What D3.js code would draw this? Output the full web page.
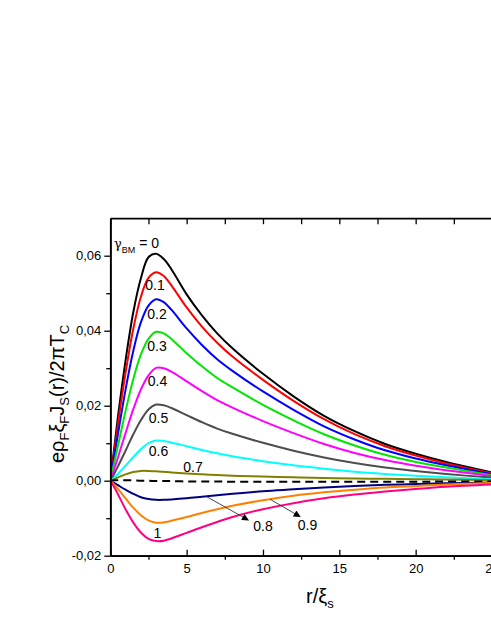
<!DOCTYPE html>
<html><head><meta charset="utf-8">
<script src="https://cdn.jsdelivr.net/npm/d3@7"></script>
<style>
body{margin:0;background:#fff}
svg{display:block}
text{font-family:Arial,"Liberation Sans",sans-serif;fill:#000}
</style>
</head><body>
<svg id="chart" width="491" height="635"></svg>
<script>
// ---------------- data ----------------
const xValues = [0,0.25,0.5,1,1.5,2,2.5,3,3.5,4,5,6,7,8,10,12,14,16,18,20,22,25];
const gammaLabels = ["0","0.1","0.2","0.3","0.4","0.5","0.6","0.7","dashed","0.8","0.9","1"];
const jGamma00 = [0,0.0085,0.0170,0.0321,0.0448,0.0539,0.0596,0.0605,0.0591,0.0564,0.0497,0.0441,0.0393,0.0353,0.0285,0.0225,0.0173,0.0132,0.0098,0.0072,0.0050,0.0022];
const jGamma01 = [0,0.0075,0.0150,0.0288,0.0404,0.0490,0.0541,0.0556,0.0546,0.0521,0.0462,0.0411,0.0368,0.0331,0.0269,0.0213,0.0164,0.0124,0.0092,0.0067,0.0046,0.0020];
const jGamma02 = [0,0.0062,0.0124,0.0243,0.0345,0.0422,0.0467,0.0484,0.0476,0.0456,0.0406,0.0362,0.0324,0.0293,0.0238,0.0189,0.0145,0.0110,0.0081,0.0059,0.0041,0.0017];
const jGamma03 = [0,0.0046,0.0093,0.0186,0.0270,0.0336,0.0378,0.0397,0.0393,0.0378,0.0340,0.0305,0.0274,0.0249,0.0202,0.0161,0.0124,0.0094,0.0069,0.0050,0.0035,0.0015];
const jGamma04 = [0,0.0030,0.0062,0.0127,0.0190,0.0243,0.0281,0.0301,0.0300,0.0291,0.0265,0.0239,0.0215,0.0195,0.0159,0.0127,0.0098,0.0074,0.0055,0.0040,0.0028,0.0012];
const jGamma05 = [0,0.0018,0.0038,0.0080,0.0123,0.0161,0.0190,0.0203,0.0201,0.0194,0.0175,0.0156,0.0139,0.0125,0.0101,0.0080,0.0062,0.0047,0.0035,0.0026,0.0018,0.0008];
const jGamma06 = [0,0.0008,0.0018,0.0040,0.0063,0.0084,0.0100,0.0107,0.0106,0.0102,0.0092,0.0082,0.0073,0.0065,0.0052,0.0041,0.0032,0.0024,0.0018,0.0013,0.0009,0.0004];
const jGamma07 = [0,0.0004,0.0009,0.0017,0.0023,0.0026,0.0026,0.0025,0.0024,0.0022,0.0019,0.0017,0.0015,0.0013,0.0011,0.0009,0.0007,0.0006,0.0005,0.0004,0.0003,0.0002];
const jGammaDash = [0,0.0001,0.0001,0.0001,0.0001,0.0000,0.0000,-0.0001,-0.0001,-0.0001,-0.0002,-0.0002,-0.0002,-0.0003,-0.0003,-0.0003,-0.0003,-0.0003,-0.0003,-0.0003,-0.0002,-0.0002];
const jGamma08 = [0,-0.0006,-0.0012,-0.0024,-0.0035,-0.0044,-0.0049,-0.0051,-0.0051,-0.0050,-0.0047,-0.0043,-0.0039,-0.0035,-0.0028,-0.0023,-0.0018,-0.0014,-0.0011,-0.0009,-0.0007,-0.0005];
const jGamma09 = [0,-0.0010,-0.0022,-0.0047,-0.0072,-0.0092,-0.0106,-0.0112,-0.0111,-0.0107,-0.0097,-0.0086,-0.0076,-0.0067,-0.0052,-0.0040,-0.0031,-0.0024,-0.0018,-0.0014,-0.0010,-0.0006];
const jGamma10 = [0,-0.0017,-0.0036,-0.0076,-0.0111,-0.0138,-0.0155,-0.0161,-0.0160,-0.0154,-0.0139,-0.0124,-0.0110,-0.0097,-0.0076,-0.0060,-0.0047,-0.0037,-0.0029,-0.0022,-0.0016,-0.0010];
const xTickValues = [0,5,10,15,20,25];
const xMinorTicks = [2.5,7.5,12.5,17.5,22.5];
const yTickValues = [-0.02,0,0.02,0.04,0.06];
const yMinorTicks = [-0.01,0.01,0.03,0.05];

// ---------------- styles ----------------
const seriesColors = ["#000000","#ff0000","#0000ff","#00e600","#ff00ff","#4d4d4d","#00ffff","#808000","#000000","#000080","#ff8000","#ff0080"];
const seriesValues = [jGamma00,jGamma01,jGamma02,jGamma03,jGamma04,jGamma05,jGamma06,jGamma07,jGammaDash,jGamma08,jGamma09,jGamma10];

// ---------------- layout ----------------
const svg = d3.select("#chart");
const plot = {left:110.3, right:492, top:218.2, bottom:555.7};
const x = d3.scaleLinear().domain([0,25]).range([plot.left, plot.right]);
const y = d3.scaleLinear().domain([-0.02,0.07]).range([plot.bottom, plot.top]);

const defs = svg.append("defs");
defs.append("clipPath").attr("id","clip")
  .append("rect").attr("x",plot.left).attr("y",plot.top)
  .attr("width",plot.right-plot.left).attr("height",plot.bottom-plot.top);
defs.append("marker").attr("id","arrow").attr("viewBox","0 0 10 10")
  .attr("refX",9).attr("refY",5).attr("markerWidth",10).attr("markerHeight",7)
  .attr("markerUnits","userSpaceOnUse").attr("orient","auto")
  .append("path").attr("d","M0,0 L10,5 L0,10 z").attr("fill","#000");

// curves
const line = d3.line().x((d,i)=>x(xValues[i])).y(d=>y(d)).curve(d3.curveCatmullRom.alpha(0.5));
const g = svg.append("g").attr("clip-path","url(#clip)");
seriesValues.forEach((vals,i)=>{
  g.append("path").datum(vals).attr("d",line)
    .attr("fill","none").attr("stroke",seriesColors[i])
    .attr("stroke-width",2)
    .attr("stroke-dasharray", gammaLabels[i]==="dashed" ? "8,5" : null);
});

// axes
const fmt = d => d3.format(".2f")(d).replace(".",",").replace("−","-");
const axisStyle = sel => { sel.select(".domain").attr("stroke","#000").attr("stroke-width",1.7);
  sel.selectAll(".tick line").attr("stroke","#000").attr("stroke-width",1.3);
  sel.selectAll("text").attr("font-size",13).attr("font-family","Arial, 'Liberation Sans', sans-serif"); };

// left axis (outward ticks)
svg.append("g").attr("transform",`translate(${plot.left},0)`)
  .call(d3.axisLeft(y).tickValues(yTickValues).tickFormat(fmt).tickSizeInner(6).tickSizeOuter(0).tickPadding(3))
  .call(axisStyle);
svg.append("g").attr("transform",`translate(${plot.left},0)`)
  .call(d3.axisLeft(y).tickValues(yMinorTicks).tickFormat("").tickSizeInner(4).tickSizeOuter(0))
  .call(axisStyle);

// bottom axis: major inward, minor outward
svg.append("g").attr("transform",`translate(0,${plot.bottom})`)
  .call(d3.axisBottom(x).tickValues(xTickValues).tickFormat(d3.format("d")).tickSizeInner(-6).tickSizeOuter(0).tickPadding(8))
  .call(axisStyle);
svg.append("g").attr("transform",`translate(0,${plot.bottom})`)
  .call(d3.axisBottom(x).tickValues(xMinorTicks).tickFormat("").tickSizeInner(4).tickSizeOuter(0))
  .call(axisStyle);

// top axis ticks inward
svg.append("g").attr("transform",`translate(0,${plot.top})`)
  .call(d3.axisTop(x).tickValues(xTickValues.concat(xMinorTicks)).tickFormat("").tickSizeInner(-6).tickSizeOuter(0))
  .call(axisStyle);

// curve labels
const labelDefs = [
  {t:"0.1", x:2.93, y:0.0509},
  {t:"0.2", x:3.06, y:0.0431},
  {t:"0.3", x:3.06, y:0.0346},
  {t:"0.4", x:3.09, y:0.0253},
  {t:"0.5", x:3.16, y:0.0155},
  {t:"0.6", x:3.16, y:0.0066},
  {t:"0.7", x:5.42, y:0.0024},
  {t:"1",   x:3.09, y:-0.0153},
  {t:"0.8", x:10.0, y:-0.0133},
  {t:"0.9", x:12.92, y:-0.0131}
];
labelDefs.forEach(l=>{
  svg.append("text").attr("x",x(l.x)).attr("y",y(l.y)).attr("text-anchor","middle")
    .attr("font-size",14).text(l.t);
});

// arrows
const arrowDefs = [
  {x1:6.32, y1:-0.00427, x2:9.04, y2:-0.0105},
  {x1:10.47, y1:-0.00496, x2:12.43, y2:-0.0096}
];
arrowDefs.forEach(a=>{
  svg.append("line").attr("x1",x(a.x1)).attr("y1",y(a.y1)).attr("x2",x(a.x2)).attr("y2",y(a.y2))
    .attr("stroke","#333").attr("stroke-width",0.9).attr("marker-end","url(#arrow)");
});

// gamma label
const gl = svg.append("text").attr("x",114).attr("y",247.5).attr("font-size",14);
gl.append("tspan").text("γ").attr("font-size",13).attr("font-family","'DejaVu Serif', serif");
gl.append("tspan").text("BM").attr("font-size",9).attr("dy",5);
gl.append("tspan").text(" = 0").attr("dy",-5);

// axis titles
const xt = svg.append("text").attr("x",306).attr("y",603).attr("font-size",20);
xt.append("tspan").text("r/ξ");
xt.append("tspan").text("s").attr("font-size",13).attr("dy",5);

const yt = svg.append("text").attr("transform","translate(64,394) rotate(-90)")
  .attr("text-anchor","middle").attr("font-size",20);
yt.append("tspan").text("eρ");
yt.append("tspan").text("F").attr("font-size",13).attr("dy",5);
yt.append("tspan").text("ξ").attr("dy",-5);
yt.append("tspan").text("F").attr("font-size",13).attr("dy",5);
yt.append("tspan").text("J").attr("dy",-5);
yt.append("tspan").text("S").attr("font-size",13).attr("dy",5);
yt.append("tspan").text("(r)/2πT").attr("dy",-5);
yt.append("tspan").text("C").attr("font-size",13).attr("dy",5);
</script>
</body></html>
